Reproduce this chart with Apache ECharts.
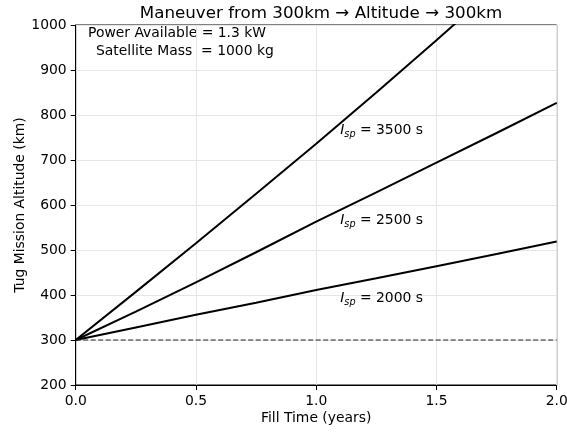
<!DOCTYPE html>
<html lang="en">
<head>
    <meta charset="UTF-8">
    <title>Tug Mission Altitude</title>
    <script src="https://cdn.jsdelivr.net/npm/echarts@6/dist/echarts.min.js"></script>
    <style>
        html, body { margin: 0; padding: 0; background: #fff; }
        #container { width: 567px; height: 432px; }
    </style>
</head>
<body>
    <div id="container"></div>
    <script type="text/javascript">
        // fill time in years
        var fillTime = [0, 0.25, 0.5, 0.75, 1.0, 1.25, 1.5, 1.75, 2.0];
        // altitude (km) for each Isp
        var alt3500 = [300, 407, 515, 625, 736, 850, 966, 1085, 1205];
        var alt2500 = [300, 363, 428, 495, 563, 628, 694, 760, 827];
        var alt2000 = [300, 328, 356, 383, 411, 437, 464, 491, 519];
        var baseline = [300, 300];
        var baselineX = [0, 2.0];
        // label anchors: [x, altitude, Isp]
        var ispLabels = [[1.1, 765, '3500'], [1.1, 565, '2500'], [1.1, 392, '2000']];

        var font = 'DejaVu Sans';

        function pairs(xs, ys) {
            return xs.map(function (x, i) { return [x, ys[i]]; });
        }

        function curve(name, ys) {
            return {
                name: name,
                type: 'line',
                data: pairs(fillTime, ys),
                showSymbol: false,
                symbol: 'none',
                lineStyle: { color: '#000', width: 2 },
                clip: true,
                silent: true
            };
        }

        var dom = document.getElementById('container');
        var myChart = echarts.init(dom, null, { renderer: 'canvas' });

        var option = {
            animation: false,
            backgroundColor: '#fff',
            textStyle: { fontFamily: font },
            title: {
                text: 'Maneuver from 300km \u2192 Altitude \u2192 300km',
                left: 316,
                top: 0,
                textAlign: 'center',
                textStyle: { fontFamily: font, fontSize: 16.7, fontWeight: 'normal', color: '#000' }
            },
            grid: {
                left: 75.7,
                right: 10.3,
                top: 25,
                bottom: 47,
                containLabel: false,
                outerBoundsMode: 'none',
                show: true,
                borderColor: '#000',
                borderWidth: 1
            },
            xAxis: {
                type: 'value',
                min: 0,
                max: 2.0,
                interval: 0.5,
                name: 'Fill Time (years)',
                nameLocation: 'middle',
                nameGap: 26,
                nameMoveOverlap: false,
                nameTextStyle: { fontFamily: font, fontSize: 13.9, color: '#000' },
                axisLine: { show: true, lineStyle: { color: '#000', width: 1 } },
                axisTick: { show: true, length: 5, lineStyle: { color: '#000' } },
                axisLabel: {
                    margin: 9, fontFamily: font, fontSize: 13.9, color: '#000',
                    formatter: function (v) { return v.toFixed(1); }
                },
                splitLine: { show: true, lineStyle: { color: '#e6e6e6', width: 1 } }
            },
            yAxis: {
                type: 'value',
                min: 200,
                max: 1000,
                interval: 100,
                name: 'Tug Mission Altitude (km)',
                nameLocation: 'middle',
                nameGap: 48,
                nameMoveOverlap: false,
                nameTextStyle: { fontFamily: font, fontSize: 13.9, color: '#000' },
                axisLine: { show: true, lineStyle: { color: '#000', width: 1 } },
                axisTick: { show: true, length: 5, lineStyle: { color: '#000' } },
                axisLabel: {
                    margin: 9, fontFamily: font, fontSize: 13.9, color: '#000',
                    formatter: function (v) { return String(v); }
                },
                splitLine: { show: true, lineStyle: { color: '#e6e6e6', width: 1 } }
            },
            graphic: [
                {
                    type: 'text', left: 88, top: 26,
                    style: { text: 'Power Available = 1.3 kW', font: '13.9px "DejaVu Sans"', fill: '#000' }
                },
                {
                    type: 'text', left: 96, top: 44,
                    style: { text: 'Satellite Mass  = 1000 kg', font: '13.9px "DejaVu Sans"', fill: '#000' }
                }
            ],
            series: [
                curve('Isp 3500 s', alt3500),
                curve('Isp 2500 s', alt2500),
                curve('Isp 2000 s', alt2000),
                {
                    name: 'baseline',
                    type: 'line',
                    data: pairs(baselineX, baseline),
                    symbol: 'none',
                    silent: true,
                    lineStyle: { color: '#222', width: 1, type: [5, 2.5] }
                },
                {
                    name: 'labels',
                    type: 'scatter',
                    symbolSize: 0,
                    silent: true,
                    itemStyle: { opacity: 1 },
                    data: ispLabels,
                    label: {
                        show: true,
                        position: 'right',
                        distance: 0,
                        color: '#000',
                        opacity: 1,
                        formatter: function (p) {
                            return '{i|I}{s|sp}{n| = ' + p.data[2] + ' s}';
                        },
                        rich: {
                            i: { fontFamily: font, fontSize: 13.9, fontStyle: 'italic', color: '#000' },
                            s: { fontFamily: font, fontSize: 9.7, fontStyle: 'italic', color: '#000', padding: [8, 0, 0, 0] },
                            n: { fontFamily: font, fontSize: 13.9, color: '#000' }
                        }
                    }
                }
            ]
        };

        myChart.setOption(option);
        window.addEventListener('resize', myChart.resize);
    </script>
</body>
</html>
